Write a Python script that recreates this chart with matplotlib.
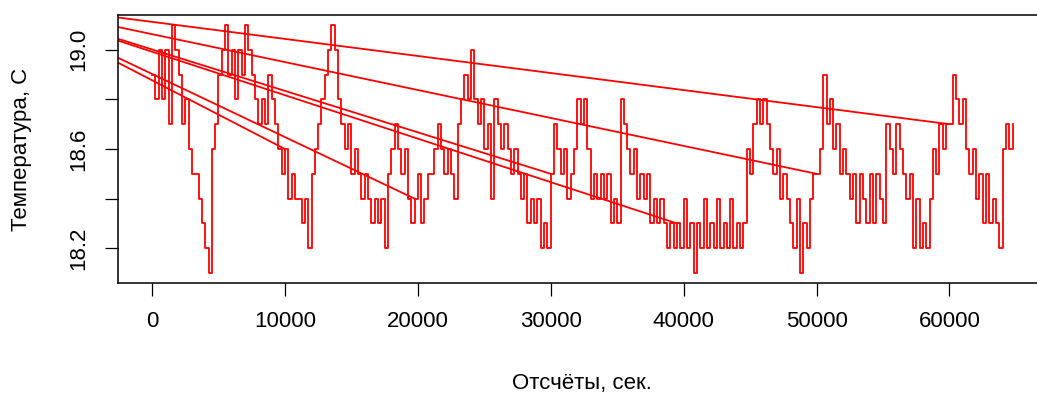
import numpy as np
import matplotlib
matplotlib.use("Agg")
import matplotlib.pyplot as plt

plt.rcParams['font.family'] = ['Liberation Sans', 'DejaVu Sans']

# temperature in tenths of a degree above 18.0 C, one reading every 250 s
sample_step = 250
temp_levels = [
    9, 8, 10, 8, 10, 7, 11, 10, 9, 7, 8, 6, 5, 5, 4, 3, 2, 1, 6, 7,
    9, 10, 11, 9, 10, 8, 10, 9, 11, 10, 9, 8, 7, 8, 7, 9, 8, 7, 6, 5,
    6, 4, 5, 4, 4, 3, 4, 2, 5, 6, 7, 8, 9, 10, 11, 10, 8, 7, 6, 7,
    5, 6, 5, 4, 5, 4, 3, 4, 3, 4, 2, 5, 6, 7, 6, 5, 6, 4, 3, 4,
    5, 3, 4, 5, 5, 6, 7, 6, 5, 6, 5, 4, 7, 8, 9, 8, 10, 8, 7, 8,
    6, 7, 4, 8, 7, 6, 7, 6, 5, 6, 5, 4, 5, 3, 4, 3, 4, 2, 3, 2,
    5, 7, 6, 5, 6, 4, 5, 6, 8, 7, 8, 6, 4, 5, 4, 5, 4, 5, 3, 4,
    3, 8, 7, 6, 5, 6, 4, 5, 4, 5, 3, 4, 3, 4, 3, 2, 3, 2, 3, 2,
    4, 2, 3, 1, 3, 2, 4, 2, 3, 2, 4, 2, 3, 2, 4, 2, 3, 2, 3, 6,
    5, 7, 8, 7, 8, 7, 6, 5, 6, 4, 5, 4, 3, 2, 4, 1, 3, 2, 4, 5,
    5, 6, 9, 7, 8, 6, 7, 5, 6, 5, 4, 5, 3, 5, 4, 3, 5, 3, 5, 4,
    3, 7, 6, 5, 7, 6, 5, 4, 5, 2, 4, 2, 3, 2, 4, 6, 5, 7, 6, 7,
    7, 9, 8, 7, 8, 6, 5, 6, 4, 5, 3, 5, 3, 4, 3, 2, 6, 7, 6, 7,
]
temps = 18.0 + np.array(temp_levels) / 10
times = np.arange(len(temps)) * sample_step

# stray reading far to the left that the trace jumps back to
stray_time = -11300
stray_temp = 19.19
jump_idx = [40, 79, 120, 158, 200, 240]

fig = plt.figure(figsize=(10.37, 3.94), dpi=100)
W, H = 1037, 394
ax = fig.add_axes([117.6 / W, 1 - 283 / H, (1047 - 117.6) / W, (283 - 15) / H])

ax.plot(times, temps, color='red', lw=1.3, drawstyle='steps-post')
for i in jump_idx:
    ax.plot([stray_time, times[i]], [stray_temp, temps[i]], color='red', lw=1.3)

ax.set_xlim(-2590, 67340)
ax.set_ylim(18.06, 19.14)

ax.set_xticks([0, 10000, 20000, 30000, 40000, 50000, 60000])
ax.set_xticklabels(['0', '10000', '20000', '30000', '40000', '50000', '60000'])
ax.set_yticks([18.2, 18.4, 18.6, 18.8, 19.0])
ax.set_yticklabels(['18.2', '', '18.6', '', '19.0'])
for lab in ax.get_yticklabels():
    lab.set_rotation(90)
    lab.set_va('center')

ax.tick_params(direction='out', length=9.4, width=0.9, labelsize=16, pad=11)
for s in ax.spines.values():
    s.set_linewidth(1.1)

fig.text(582 / W, 1 - 383 / H, 'Отсчёты, сек.', ha='center', va='center', fontsize=16)
fig.text(22 / W, 1 - 149 / H, 'Температура, С', ha='center', va='center',
         rotation=90, fontsize=16)

fig.savefig('out.png', dpi=100)
